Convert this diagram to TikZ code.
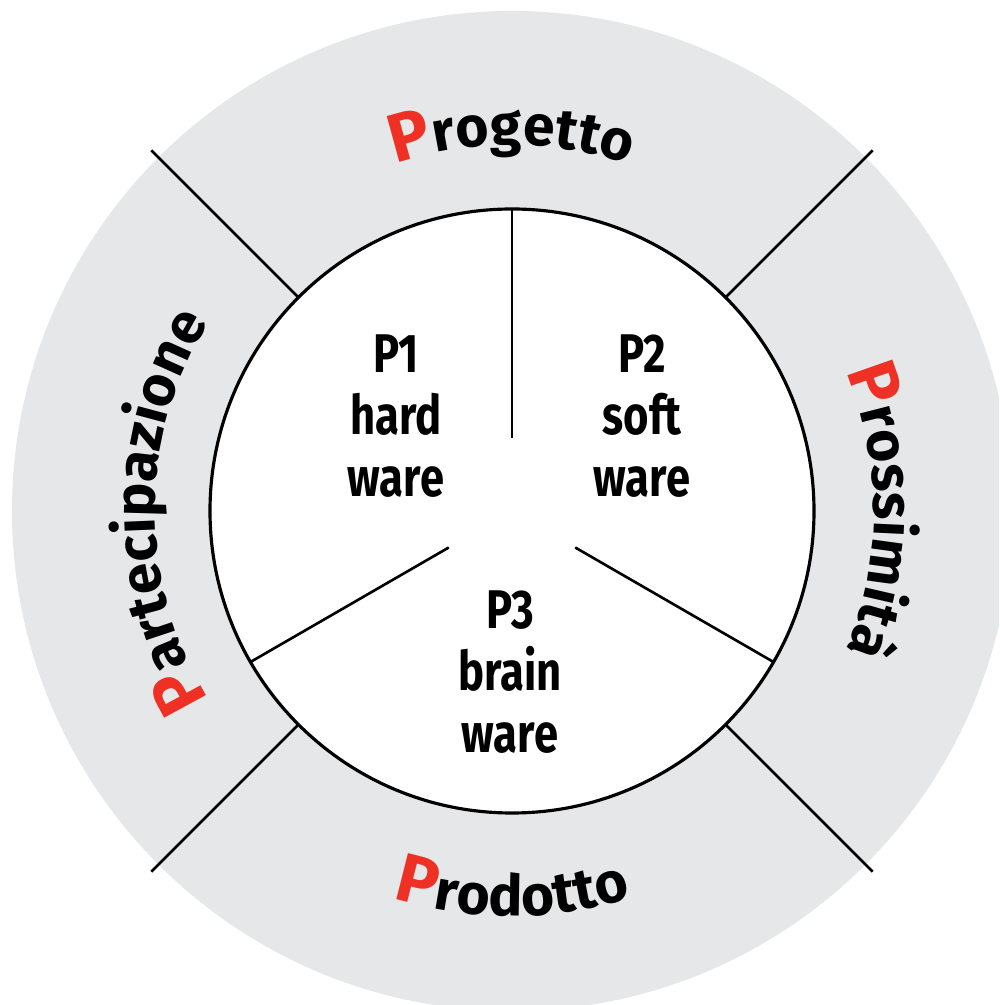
\documentclass[tikz,border=0pt]{standalone}
\usepackage{fontspec}
\setmainfont{Fira Sans}
\newfontfamily\ringfont{Fira Sans}
\newfontfamily\pfont[FakeStretch=0.8]{Fira Sans}
\usetikzlibrary{decorations.text}
\definecolor{ringgray}{HTML}{E6E7E8}
\definecolor{pred}{HTML}{EE3124}
\newcommand{\bigP}{\ringfont\bfseries\fontsize{19.5}{22}\selectfont\color{pred}}
\newcommand{\restP}{\ringfont\bfseries\fontsize{16.2}{18}\selectfont\color{black}}
\tikzset{
  ringtext/.style={decoration={text along path, text align=center, text={#1}}, decorate},
  ptext/.style={align=center, inner sep=0pt, font=\pfont\bfseries\fontsize{15.5}{17.6}\selectfont},
  divider/.style={line width=0.75pt},
}
\begin{document}
\begin{tikzpicture}
\useasboundingbox (-5.12,-4.94) rectangle (4.87,5.11);
\clip (-5.12,-4.94) rectangle (4.87,5.11);
\coordinate (c) at (0,0);
\fill[ringgray] (c) circle (5);
\foreach \a in {45,135,225,315}
  \draw[divider] (\a:3.02) -- (\a:5.1);
\draw[line width=0.9pt, fill=white] (c) circle (3.02);
\foreach \a in {90,210,330}
  \draw[divider] (\a:0.73) -- (\a:3.02);

\node[ptext] (p1) at (-1.16,0.95) {P1\\hard\\ware};
\node[ptext] (p2) at (1.30,0.95) {P2\\soft\\ware};
\node[ptext] (p3) at (-0.02,-1.61) {P3\\brain\\ware};

\path[ringtext={|\bigP|P|\restP|rogetto}] (150:3.66) arc[start angle=150, end angle=30, radius=3.66];
\path[ringtext={|\bigP|P|\restP|rossimità}] (60:3.62) arc[start angle=60, end angle=-60, radius=3.62];
\path[ringtext={|\bigP|P|\restP|artecipazione}] (240:3.57) arc[start angle=240, end angle=120, radius=3.57];
\path[ringtext={|\bigP|P|\restP|rodotto}] (210:4.05) arc[start angle=210, end angle=330, radius=4.05];
\end{tikzpicture}
\end{document}
